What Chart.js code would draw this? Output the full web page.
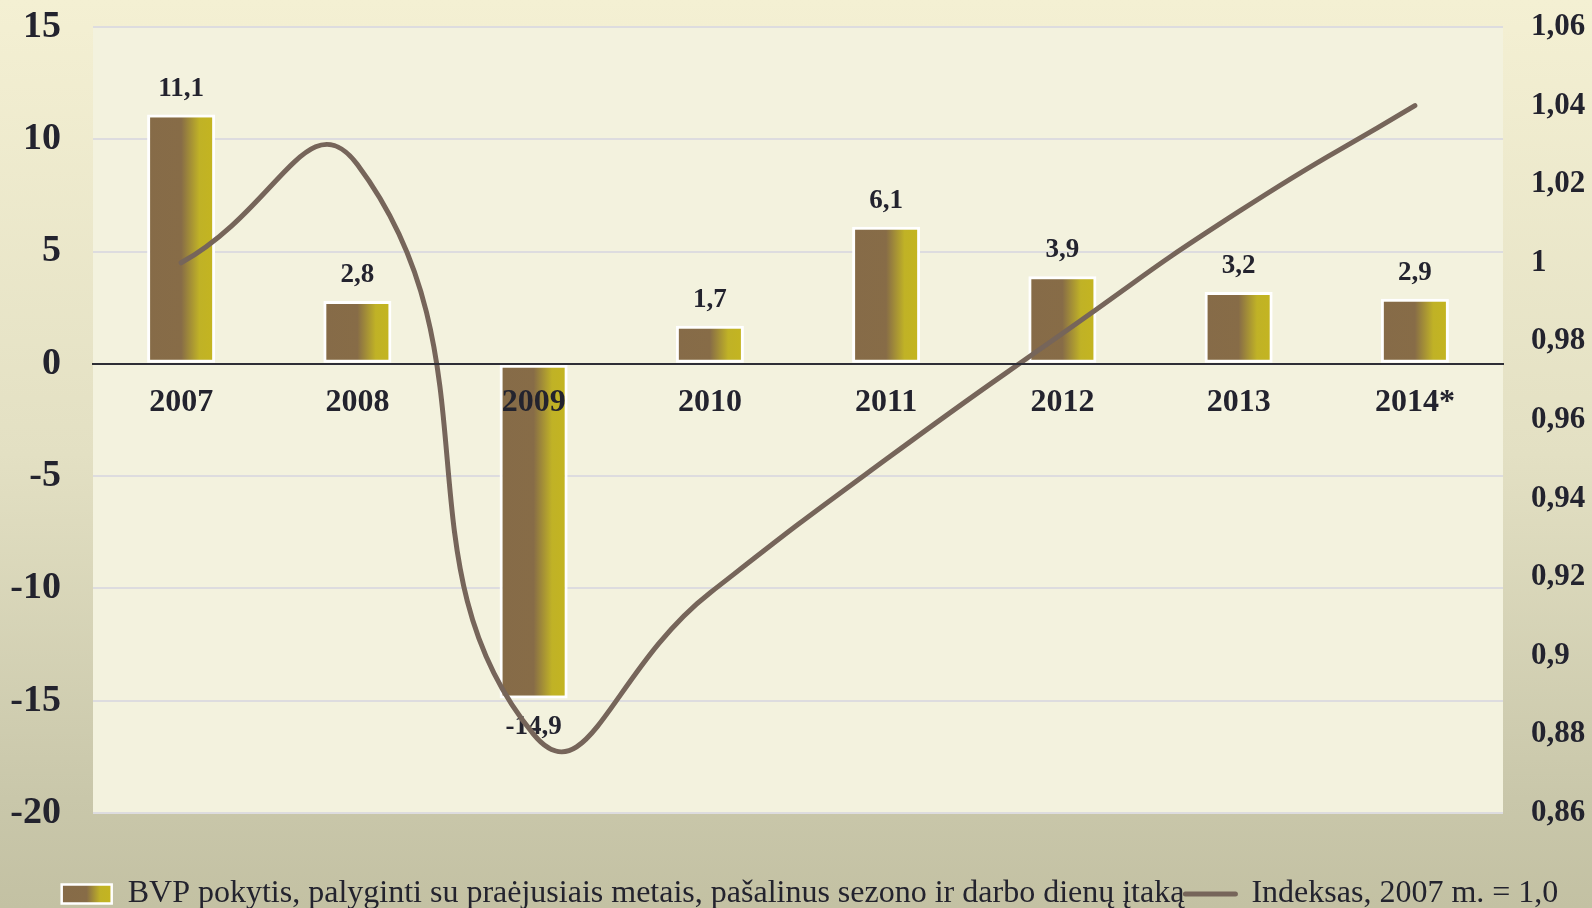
<!DOCTYPE html>
<html>
<head>
<meta charset="utf-8">
<script src="https://cdn.jsdelivr.net/npm/chart.js@4.4.0/dist/chart.umd.min.js"></script>
<style>
html, body { margin: 0; padding: 0; background: #C4C2A4; }
#wrap { width: 1592px; height: 908px; }
</style>
</head>
<body>
<div id="wrap"><canvas id="grafikas" width="1592" height="908"></canvas></div>
<script>
// duomenys
var metai = ['2007', '2008', '2009', '2010', '2011', '2012', '2013', '2014*'];
var bvpPokytis = [11.1, 2.8, -14.9, 1.7, 6.1, 3.9, 3.2, 2.9];
var indeksas = [1.000, 1.025, 0.880, 0.916, 0.950, 0.982, 1.013, 1.040];
var kairesRibos = [-20, 15, 5];       // min, max, zingsnis
var desinesRibos = [0.86, 1.06, 0.02];
var legendosTekstai = [
    'BVP pokytis, palyginti su praėjusiais metais, pašalinus sezono ir darbo dienų įtaką',
    'Indeksas, 2007 m. = 1,0'
];

var serif = '"Liberation Serif", "Times New Roman", serif';
var tekstoSpalva = '#23232E';
var linijosSpalva = '#76655A';

Chart.defaults.font.family = serif;
Chart.defaults.color = tekstoSpalva;

function kablelis(v, d) {
    var s = (Math.round(v * Math.pow(10, d)) / Math.pow(10, d)).toString();
    return s.replace('.', ',');
}

function stulpelioGradientas(ctx, x1, x2) {
    var g = ctx.createLinearGradient(x1, 0, x2, 0);
    g.addColorStop(0, '#866B48');
    g.addColorStop(0.5, '#876C47');
    g.addColorStop(0.77, '#C0B226');
    g.addColorStop(1, '#C4B520');
    return g;
}

var fonas = {
    id: 'fonas',
    beforeDraw: function(chart) {
        var c = chart.ctx, a = chart.chartArea;
        var g = c.createLinearGradient(0, 0, 0, chart.height);
        g.addColorStop(0, '#F4F0D3');
        g.addColorStop(0.5, '#E3E0C3');
        g.addColorStop(0.88, '#C9C7AA');
        g.addColorStop(1, '#C3C1A3');
        c.save();
        c.fillStyle = g;
        c.fillRect(0, 0, chart.width, chart.height);
        c.fillStyle = '#F3F2DE';
        c.fillRect(a.left, a.top, a.right - a.left, a.bottom - a.top);
        c.restore();
    }
};

var reiksmes = {
    id: 'reiksmes',
    beforeDatasetsDraw: function(chart) {
        var meta = chart.getDatasetMeta(0);
        var c = chart.ctx;
        c.save();
        c.font = 'bold 27px ' + serif;
        c.fillStyle = tekstoSpalva;
        c.textAlign = 'center';
        c.textBaseline = 'middle';
        meta.data.forEach(function(bar, i) {
            var v = bvpPokytis[i];
            var y = v >= 0 ? bar.y - 26 : bar.y + 29;
            c.fillText(kablelis(v, 1), bar.x, y);
        });
        c.restore();
    }
};

// legendos staciakampiui gradientas pagal jo vieta
var legendosSpalva = {
    id: 'legendosSpalva',
    afterUpdate: function(chart) {
        var lg = chart.legend;
        if (!lg || !lg.legendHitBoxes || !lg.legendHitBoxes[0]) return;
        var hb = lg.legendHitBoxes[0];
        lg.legendItems[0].fillStyle = stulpelioGradientas(chart.ctx, hb.left, hb.left + 50);
    }
};

var ctx = document.getElementById('grafikas').getContext('2d');
var chart = new Chart(ctx, {
    data: {
        labels: metai,
        datasets: [{
            type: 'bar',
            label: legendosTekstai[0],
            data: bvpPokytis,
            xAxisID: 'x',
            yAxisID: 'y',
            order: 1,
            backgroundColor: function(c) {
                var ch = c.chart;
                var xs = ch.scales && ch.scales.x;
                if (!ch.chartArea || !xs || c.dataIndex === undefined) return '#876C47';
                var cx = xs.getPixelForValue(c.dataIndex);
                var w = (xs.right - xs.left) / metai.length * 0.386;
                return stulpelioGradientas(ch.ctx, cx - w / 2, cx + w / 2);
            },
            borderColor: '#FFFFFF',
            borderWidth: 3,
            borderSkipped: false,
            barPercentage: 0.386,
            categoryPercentage: 1
        }, {
            type: 'line',
            label: legendosTekstai[1],
            data: indeksas,
            xAxisID: 'x',
            yAxisID: 'y1',
            order: 0,
            borderColor: linijosSpalva,
            borderWidth: 5,
            borderCapStyle: 'round',
            pointRadius: 0,
            tension: 0.55,
            fill: false
        }]
    },
    options: {
        responsive: false,
        animation: false,
        devicePixelRatio: 1,
        events: [],
        layout: { padding: { top: 27, bottom: -12, left: 0, right: -28 } },
        scales: {
            x: {
                type: 'category',
                position: { y: 0 },
                grid: { display: true, color: 'rgba(0,0,0,0)', drawTicks: false },
                border: { display: true, color: '#2E2E36', width: 2, z: 1 },
                ticks: {
                    z: 1,
                    padding: 20,
                    maxRotation: 0,
                    autoSkip: false,
                    font: { size: 32, weight: 'bold' },
                    color: tekstoSpalva
                },
                afterFit: function(s) { s.height = 0; }
            },
            xTarpas: {
                type: 'linear',
                position: 'bottom',
                grid: { display: false, drawTicks: false },
                border: { display: false },
                ticks: { display: false },
                afterFit: function(s) { s.height = 64; }
            },
            y: {
                type: 'linear',
                position: 'left',
                min: kairesRibos[0],
                max: kairesRibos[1],
                ticks: {
                    stepSize: kairesRibos[2],
                    padding: 0,
                    font: { size: 38, weight: 'bold' },
                    color: tekstoSpalva
                },
                grid: { color: '#DDDCDF', lineWidth: 2, drawTicks: true, tickLength: 32, tickColor: 'rgba(0,0,0,0)' },
                border: { display: false },
                afterFit: function(s) { s.width = 93; }
            },
            y1: {
                type: 'linear',
                position: 'right',
                min: desinesRibos[0],
                max: desinesRibos[1],
                ticks: {
                    stepSize: desinesRibos[2],
                    padding: 0,
                    font: { size: 31, weight: 'bold' },
                    color: tekstoSpalva,
                    callback: function(v) { return kablelis(v, 2); }
                },
                grid: { display: true, drawOnChartArea: false, color: 'rgba(0,0,0,0)', drawTicks: true, tickLength: 28, tickColor: 'rgba(0,0,0,0)' },
                border: { display: false },
                afterFit: function(s) { s.width = 117; }
            }
        },
        plugins: {
            tooltip: { enabled: false },
            legend: {
                position: 'bottom',
                labels: {
                    usePointStyle: true,
                    pointStyleWidth: 50,
                    boxHeight: 19,
                    padding: 1,
                    color: tekstoSpalva,
                    font: { size: 32, weight: 'normal' },
                    generateLabels: function(ch) {
                        return [{
                            text: legendosTekstai[0],
                            pointStyle: 'rect',
                            fillStyle: '#876C47',
                            strokeStyle: '#FFFFFF',
                            lineWidth: 2.5,
                            fontColor: tekstoSpalva,
                            datasetIndex: 0
                        }, {
                            text: legendosTekstai[1],
                            pointStyle: 'line',
                            fillStyle: linijosSpalva,
                            strokeStyle: linijosSpalva,
                            lineWidth: 5,
                            lineCap: 'round',
                            fontColor: tekstoSpalva,
                            datasetIndex: 1
                        }];
                    }
                }
            }
        }
    },
    plugins: [fonas, reiksmes, legendosSpalva]
});
</script>
</body>
</html>
